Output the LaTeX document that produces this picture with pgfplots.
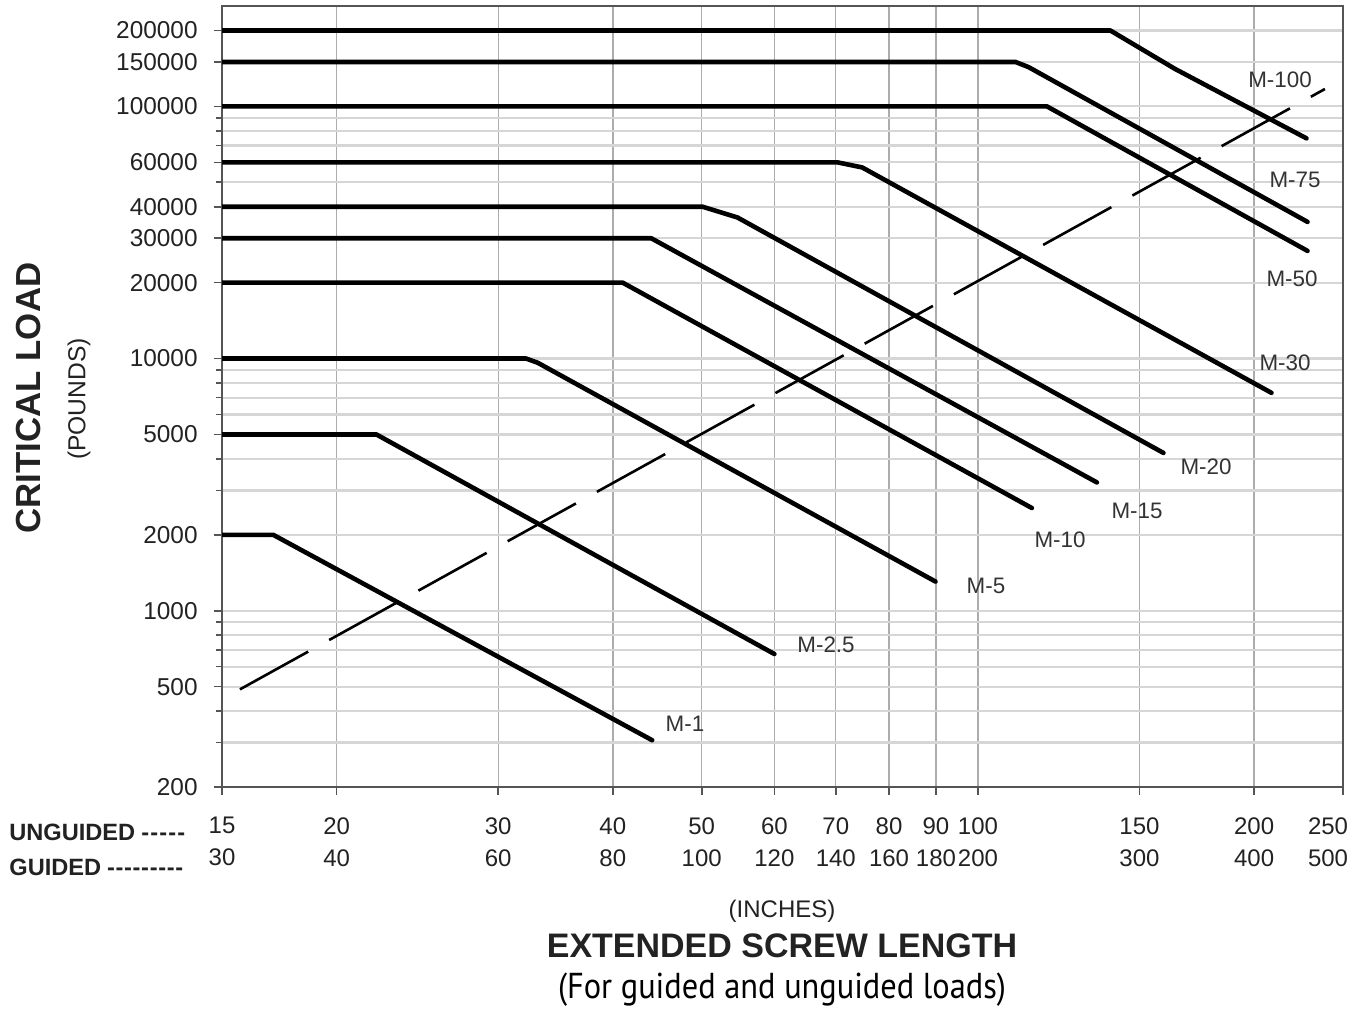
\documentclass[border=0pt]{standalone}
\usepackage{pgfplots}
\pgfplotsset{compat=1.18}
\usepackage{fontspec}
\setmainfont{Liberation Sans}
\newfontfamily\condfont[FakeStretch=0.9]{PT Sans}
\definecolor{txt}{HTML}{222222}
\definecolor{axln}{HTML}{555555}
\begin{document}
\begin{tikzpicture}
\useasboundingbox (0,0) rectangle (684.5pt,504.5pt);
\begin{axis}[
  at={(111pt,111pt)}, anchor=south west,
  scale only axis, width=560.5pt, height=390.5pt,
  xmode=log, ymode=log,
  xmin=15, xmax=250, ymin=200, ymax=250000,
  xtick={15,20,30,40,50,60,70,80,90,100,150,200,250},
  xticklabels={{15\\30},{20\\40},{30\\60},{40\\80},{50\\100},{60\\120},{70\\140},{80\\160},{90\\180},{100\\200},{150\\300},{200\\400},{\hspace*{-15pt}250\\\hspace*{-15pt}500}},
  ytick={200,500,1000,2000,5000,10000,20000,30000,40000,60000,100000,150000,200000},
  yticklabels={200,500,1000,2000,5000,10000,20000,30000,40000,60000,100000,150000,200000},
  minor ytick={300,400,600,700,800,900,3000,4000,6000,7000,8000,9000,50000,70000,80000,90000},
  minor x tick num=0,
  xmajorgrids, ymajorgrids, yminorgrids,
  x grid style={color=gray!65, line width=0.7pt},
  y grid style={color=gray!32, line width=1.1pt},
  tick align=outside,
  xtick pos=bottom, ytick pos=left,
  major tick length=4pt, minor tick length=3pt,
  every tick/.style={color=axln, line width=0.8pt},
  axis line style={color=axln, line width=1.3pt},
  yticklabel style={font=\fontsize{12.2}{13}\selectfont, color=txt, inner sep=0pt, anchor=east},
  xticklabel style={font=\fontsize{12}{16}\selectfont, color=txt, inner sep=0pt, align=center, anchor=north},
  yticklabel shift=8pt,
  xticklabel shift=11pt,
  curve/.style={black, line width=2.3pt, line join=round, line cap=round},
]
% M-1
\addplot[curve] coordinates {(15,2000) (17.06,2000) (17.87,1825) (44.15,306.6)};
% M-2.5
\addplot[curve] coordinates {(15,5000) (22.10,5000) (60.0,673.5)};
% M-5
\addplot[curve] coordinates {(15,10000) (32.18,10000) (33.13,9622) (89.9,1305)};
% M-10
\addplot[curve] coordinates {(15,20000) (41.0,20000) (114.5,2554)};
% M-15
\addplot[curve] coordinates {(15,30000) (44.04,30000) (134.8,3227)};
% M-20
\addplot[curve] coordinates {(15,40000) (50.1,40000) (54.69,36260) (159.3,4224)};
% M-30
\addplot[curve] coordinates {(15,60000) (70.27,60000) (74.8,57260) (208.9,7312)};
% M-50
\addplot[curve] coordinates {(15,100000) (118.9,100000) (228.7,26720)};
% M-75
\addplot[curve] coordinates {(15,150000) (109.9,150000) (113.6,142980) (228.7,34820)};
% M-100
\addplot[curve] coordinates {(15,200000) (139.4,200000) (164.0,140770) (228.1,74680)};
% guided / unguided divider (dashed)
\addplot[black, line width=1.3pt, dash pattern=on 39pt off 12pt] coordinates {(15.69,487.6) (238.9,117200)};
\end{axis}
% model labels
\begin{scope}[every node/.style={font=\fontsize{11.2}{12}\selectfont, text=black!80, inner sep=0pt}]
\node at (640pt,464.5pt) {M-100};
\node at (647.5pt,414.5pt) {M-75};
\node at (646pt,365pt) {M-50};
\node at (642.5pt,323pt) {M-30};
\node at (603pt,271pt) {M-20};
\node at (568.5pt,249pt) {M-15};
\node at (530pt,234.5pt) {M-10};
\node at (493pt,211.5pt) {M-5};
\node at (413pt,182pt) {M-2.5};
\node at (342.5pt,142.5pt) {M-1};
\end{scope}
% axis titles
\node[rotate=90, font=\fontsize{17.4}{20}\bfseries, text=txt, inner sep=0pt] at (14.25pt,305.5pt) {CRITICAL LOAD};
\node[rotate=90, font=\fontsize{12.3}{13}\selectfont, text=txt, inner sep=0pt] at (39.5pt,305pt) {(POUNDS)};
\node[anchor=base west, font=\fontsize{11.8}{13}\bfseries, text=txt, inner sep=0pt] at (4.5pt,84.5pt) {UNGUIDED\hspace{3pt}\makebox[22pt][s]{-\hfill-\hfill-\hfill-\hfill-}};
\node[anchor=base west, font=\fontsize{11.8}{13}\bfseries, text=txt, inner sep=0pt] at (4.5pt,67pt) {GUIDED\hspace{3pt}\makebox[38pt][s]{-\hfill-\hfill-\hfill-\hfill-\hfill-\hfill-\hfill-\hfill-}};
\node[font=\fontsize{12}{13}\selectfont, text=txt, inner sep=0pt] at (391pt,49pt) {(INCHES)};
\node[anchor=base, font=\fontsize{17}{20}\bfseries, text=txt, inner sep=0pt] at (391pt,26pt) {EXTENDED SCREW LENGTH};
\node[font=\condfont\fontsize{18}{20}\selectfont, text=black, inner sep=0pt] at (391pt,9.5pt) {(For guided and unguided loads)};
\end{tikzpicture}
\end{document}
